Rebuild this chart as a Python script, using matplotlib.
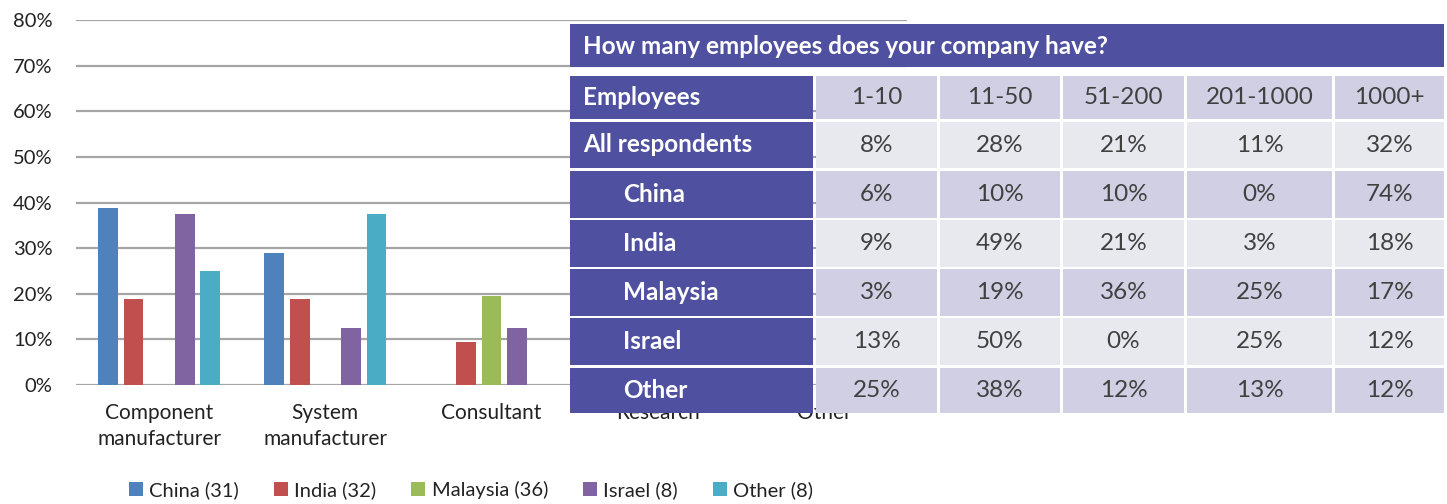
import numpy as np
import matplotlib
matplotlib.use("Agg")
import matplotlib.pyplot as plt
from matplotlib.patches import Rectangle
from matplotlib.ticker import PercentFormatter

plt.rcParams['font.family'] = ['Lato', 'DejaVu Sans']

# ---- bar chart data: company type share by country ----
categories = ["Component\nmanufacturer", "System\nmanufacturer", "Consultant", "Research", "Other"]
china = [38.7, 29.0, 0.0, np.nan, np.nan]
india = [18.75, 18.75, 9.4, np.nan, np.nan]
malaysia = [0.0, 0.0, 19.4, np.nan, np.nan]
israel = [37.5, 12.5, 12.5, np.nan, np.nan]
other = [25.0, 37.5, 0.0, np.nan, np.nan]
series_names = ["China (31)", "India (32)", "Malaysia (36)", "Israel (8)", "Other (8)"]
series_colors = ["#4F81BD", "#C0504D", "#9BBB59", "#8064A2", "#4BACC6"]

# ---- table data: company size ----
table_title = "How many employees does your company have?"
size_bands = ["1-10", "11-50", "51-200", "201-1000", "1000+"]
row_labels = ["All respondents", "China", "India", "Malaysia", "Israel", "Other"]
all_resp = [8, 28, 21, 11, 32]
china_sz = [6, 10, 10, 0, 74]
india_sz = [9, 49, 21, 3, 18]
malaysia_sz = [3, 19, 36, 25, 17]
israel_sz = [13, 50, 0, 25, 12]
other_sz = [25, 38, 12, 13, 12]

W, H = 1447, 504
fig = plt.figure(figsize=(W / 100, H / 100), dpi=100)
fig.patch.set_facecolor("white")

ax = fig.add_axes([76 / W, 1 - 385 / H, (907 - 76) / W, (385 - 20) / H])
x = np.arange(len(categories))
bw, step = 0.12, 0.154
for i, (vals, col, name) in enumerate(zip([china, india, malaysia, israel, other],
                                          series_colors, series_names)):
    ax.bar(x + (i - 2) * step, vals, width=bw, color=col, label=name, zorder=3)

ax.set_xlim(-0.5, len(categories) - 0.5)
ax.set_ylim(0, 80)
ax.set_yticks(np.arange(0, 81, 10))
ax.yaxis.set_major_formatter(PercentFormatter(decimals=0))
ax.yaxis.grid(True, color="#A6A6A6", lw=1.6, zorder=0)
ax.set_axisbelow(True)
for s in ax.spines.values():
    s.set_visible(False)
ax.set_xticks(x)
ax.set_xticklabels(categories, fontsize=15, color="#222222", linespacing=1.35)
ax.tick_params(axis="both", length=0)
ax.tick_params(axis="y", pad=17, labelsize=14.5, labelcolor="#222222")
ax.tick_params(axis="x", pad=13)

handles, labels = ax.get_legend_handles_labels()
fig.legend(handles, labels, loc="center", bbox_to_anchor=(471 / W, 1 - 490 / H),
           ncol=5, frameon=False, fontsize=14.5, handlelength=0.7, handleheight=0.7,
           handletextpad=0.3, columnspacing=1.75, labelcolor="#222222")

# ---- table overlay drawn in pixel coordinates ----
ov = fig.add_axes([0, 0, 1, 1], zorder=5)
ov.set_xlim(0, W)
ov.set_ylim(H, 0)
ov.axis("off")
ov.patch.set_alpha(0)

dark = "#4F51A0"
lav = "#D0CFE3"
light = "#E8E8EF"
txt = "#404040"
fs = 17.5

# title bar
ov.add_patch(Rectangle((570, 24), 1444 - 570, 43, facecolor=dark, lw=0))
ov.text(583, 46, table_title, color="white", fontsize=fs, fontweight="bold",
        va="center", ha="left")

label_col = (570, 813)
cols = [(816, 937), (940, 1060), (1063, 1184), (1187, 1332), (1335, 1444)]
rows = [(76, 119), (122, 168), (171, 218), (220, 267), (269, 316), (318, 365), (368, 413)]

row_names = ["Employees"] + row_labels
row_vals = [None, all_resp, china_sz, india_sz, malaysia_sz, israel_sz, other_sz]

for r, ((y0, y1), name, vals) in enumerate(zip(rows, row_names, row_vals)):
    ov.add_patch(Rectangle((label_col[0], y0), label_col[1] - label_col[0], y1 - y0,
                           facecolor=dark, lw=0))
    indent = 583 if r < 2 else 623
    ov.text(indent, (y0 + y1) / 2, name, color="white", fontsize=fs, fontweight="bold",
            va="center", ha="left")
    fill = lav if r % 2 == 0 else light
    for c, (x0, x1) in enumerate(cols):
        ov.add_patch(Rectangle((x0, y0), x1 - x0, y1 - y0, facecolor=fill, lw=0))
        s = size_bands[c] if vals is None else f"{vals[c]}%"
        ov.text((x0 + x1) / 2, (y0 + y1) / 2, s, color=txt, fontsize=fs,
                va="center", ha="center")

fig.savefig("out.png", dpi=100)
